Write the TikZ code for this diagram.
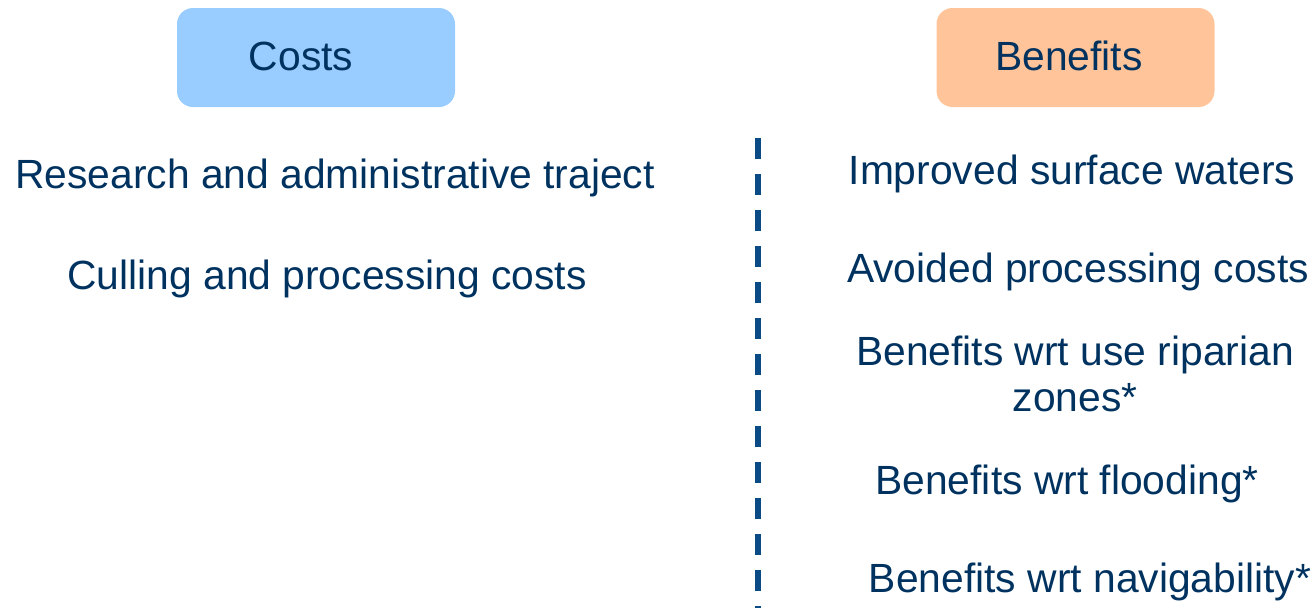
\documentclass[tikz,border=0pt]{standalone}
\usepackage{fontspec}
\setmainfont{Liberation Sans}
\definecolor{inknavy}{RGB}{0,50,96}
\definecolor{dashblue}{RGB}{10,74,133}
\definecolor{costfill}{RGB}{153,204,255}
\definecolor{benefitfill}{RGB}{255,196,153}
\begin{document}
\begin{tikzpicture}[x=1pt,y=-1pt,
  headbox/.style={rectangle,rounded corners=16pt,draw=none,inner sep=0pt,
    minimum width=278pt,minimum height=99pt},
  item/.style={anchor=base,inner sep=0pt,text=inknavy,align=center,
    font=\fontsize{40.8}{46}\selectfont}]
  \useasboundingbox (0,0) rectangle (1316,608);

  % column headers
  \node[headbox,fill=costfill] (costbox) at (316,57.5) {};
  \node[headbox,fill=benefitfill] (benefitbox) at (1075.5,57.5) {};
  \node[item] (costs) at (301,70) {Costs};
  \node[item] (benefits) at (1069,70) {Benefits};

  % cost items
  \node[item] (research) at (335,188) {Research and administrative traject};
  \node[item] (culling) at (327,289) {Culling and processing costs};

  % benefit items (the two-line item sits on the baseline of its last line)
  \node[item] (surface) at (1072,184) {Improved surface waters};
  \node[item] (avoided) at (1078,282) {Avoided processing costs};
  \node[item] (riparian) at (1075,411) {Benefits wrt use riparian\\zones*};
  \node[item] (flooding) at (1067,494) {Benefits wrt flooding*};
  \node[item] (navig) at (1090,592) {Benefits wrt navigability*};

  % dashed divider
  \coordinate (divtop) at (758,138);
  \coordinate (divbot) at (758,608);
  \draw[dashblue,line width=5.5pt,dash pattern=on 21pt off 15pt] (divtop) -- (divbot);
\end{tikzpicture}
\end{document}
